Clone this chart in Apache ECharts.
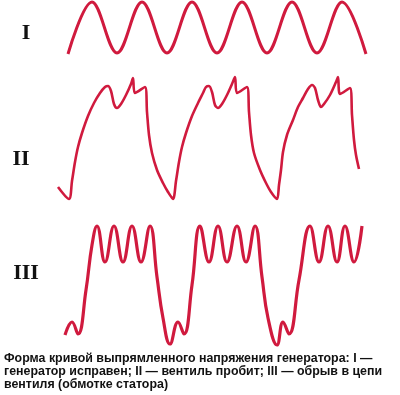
<!DOCTYPE html>
<html>
<head>
<meta charset="utf-8">
<script src="https://cdn.jsdelivr.net/npm/echarts@6/dist/echarts.min.js"></script>
<style>
html,body{margin:0;padding:0;background:#fff;}
#chart{width:400px;height:395px;}
</style>
</head>
<body>
<div id="chart"></div>
<script>
// ---- Data (time in ms, voltage in arbitrary units) ----
// Curve I: generator OK
const timeI = [1.8, 4.2, 6.7, 9.2, 11.7, 14.2, 16.7, 19.2, 21.7, 24.2, 26.7, 29.2, 31.6];
const voltI = [2, 54, 3, 54, 3, 54, 3, 54, 3, 54, 3, 54, 2];

// Curve II: diode broken
const timeII = [0.8, 1.9, 2.2, 2.5, 2.8, 3.2, 3.8, 4.4, 5.0, 5.5, 5.8, 6.1, 6.4, 6.7, 7.1, 7.6, 8.1, 8.3, 8.5, 9.5, 9.7, 9.9, 10.2, 10.7, 11.3, 11.8, 12.3,
  12.6, 12.9, 13.2, 13.6, 14.2, 14.8, 15.3, 15.6, 15.9, 16.2, 16.5, 16.8, 17.2, 17.7, 18.2, 18.5, 18.7, 19.7, 19.9, 20.1, 20.4, 21.0, 21.6, 22.1, 22.7,
  22.9, 23.1, 23.3, 23.7, 24.3, 24.8, 25.3, 25.8, 26.2, 26.5, 26.8, 27.1, 27.4, 28.0, 28.6, 28.8, 29.0, 30.0, 30.2, 30.4, 30.6, 30.9];
const voltII = [18, 6, 24, 43, 58, 72, 89, 102, 112, 118, 119, 114, 101, 97, 101, 110, 121, 127, 112, 118, 93, 70, 52, 35, 22, 13, 6,
  24, 43, 58, 72, 89, 102, 112, 118, 119, 113, 100, 97, 101, 110, 121, 128, 112, 118, 93, 70, 52, 35, 22, 13, 6,
  20, 35, 53, 70, 85, 98, 107, 116, 120, 117, 105, 98, 101, 110, 123, 128, 111, 117, 90, 65, 50, 36];

// Curve III: open circuit in diode (stator winding)
const timeIII = [1.5, 2.2, 2.8, 3.6, 4.2, 4.7, 5.5, 6.4, 7.3, 8.2, 9.1, 10.0, 10.7, 11.3, 12.0, 12.8, 13.4, 14.2, 15.0,
  15.9, 16.8, 17.7, 18.7, 19.6, 20.5, 21.2, 21.8, 22.7, 23.3, 23.9, 24.9, 26.0, 26.9, 27.8, 28.7, 29.5, 30.4, 31.2];
const voltIII = [15, 28, 16, 60, 105, 124, 88, 124, 88, 124, 88, 124, 73, 32, 6, 28, 16, 65, 124,
  88, 124, 88, 124, 88, 124, 73, 32, 5, 28, 16, 70, 124, 88, 124, 88, 124, 88, 124];

const labels = ['I', 'II', 'III'];
const caption = 'Форма кривой выпрямленного напряжения генератора: I —\nгенератор исправен; II — вентиль пробит; III — обрыв в цепи\nвентиля (обмотке статора)';

const zip = (a, b) => a.map((v, i) => [v, b[i]]);
const RED = '#d01a3e';

const chart = echarts.init(document.getElementById('chart'), null, {renderer: 'canvas'});
chart.setOption({
  animation: false,
  backgroundColor: '#fff',
  grid: [
    {left: 50, width: 320, top: 0, height: 56},
    {left: 50, width: 320, top: 70, height: 135},
    {left: 50, width: 320, top: 215, height: 135}
  ],
  xAxis: [0, 1, 2].map(i => ({type: 'value', gridIndex: i, min: 0, max: 32, show: false})),
  yAxis: [
    {type: 'value', gridIndex: 0, min: 0, max: 56, show: false},
    {type: 'value', gridIndex: 1, min: 0, max: 135, show: false},
    {type: 'value', gridIndex: 2, min: 0, max: 135, show: false}
  ],
  series: [
    {type: 'line', xAxisIndex: 0, yAxisIndex: 0, data: zip(timeI, voltI), smooth: 0.36, symbol: 'none', clip: false,
     lineStyle: {color: RED, width: 3}},
    {type: 'line', xAxisIndex: 1, yAxisIndex: 1, data: zip(timeII, voltII), smooth: 0.3, symbol: 'none', clip: false,
     lineStyle: {color: RED, width: 2.6}},
    {type: 'line', xAxisIndex: 2, yAxisIndex: 2, data: zip(timeIII, voltIII), smooth: 0.45, symbol: 'none', clip: false,
     lineStyle: {color: RED, width: 3.2}}
  ],
  graphic: [
    {type: 'text', x: 26, y: 33, style: {text: labels[0], font: 'bold 22px "Liberation Serif"', fill: '#111', textAlign: 'center', textVerticalAlign: 'middle'}},
    {type: 'text', x: 21, y: 159, style: {text: labels[1], font: 'bold 22px "Liberation Serif"', fill: '#111', textAlign: 'center', textVerticalAlign: 'middle'}},
    {type: 'text', x: 26, y: 273, style: {text: labels[2], font: 'bold 22px "Liberation Serif"', fill: '#111', textAlign: 'center', textVerticalAlign: 'middle'}},
    {type: 'text', x: 4, y: 352, style: {text: caption, font: 'bold 12.4px "Liberation Sans"', lineHeight: 13, fill: '#111', textAlign: 'left', textVerticalAlign: 'top'}}
  ]
});
</script>
</body>
</html>
